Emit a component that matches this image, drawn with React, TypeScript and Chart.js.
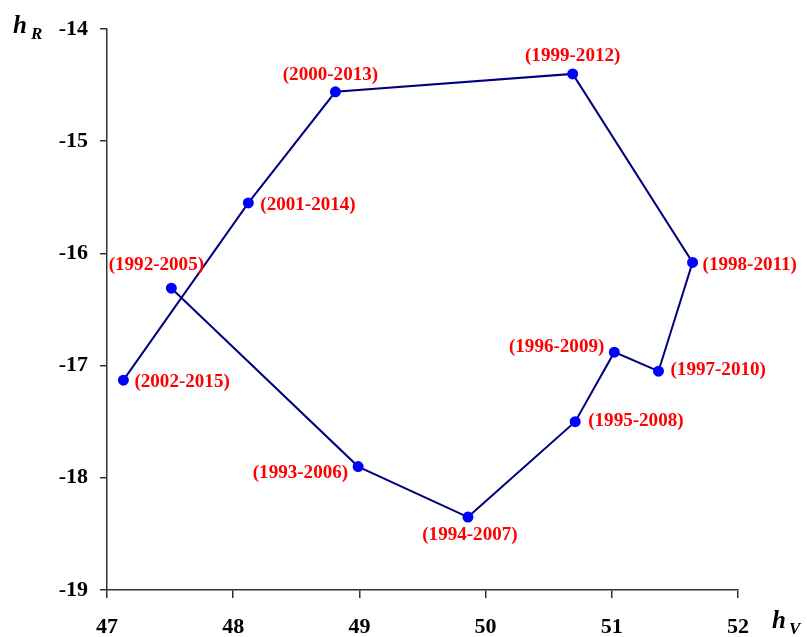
import React, { useEffect, useRef } from "react";
import { Chart, registerables } from "chart.js";

Chart.register(...registerables);

const periods = [
  "(1992-2005)", "(1993-2006)", "(1994-2007)", "(1995-2008)", "(1996-2009)",
  "(1997-2010)", "(1998-2011)", "(1999-2012)", "(2000-2013)", "(2001-2014)", "(2002-2015)",
];
const hV = [47.51, 48.99, 49.86, 50.71, 51.02, 51.37, 51.64, 50.69, 48.81, 48.12, 47.13];
const hR = [-16.31, -17.9, -18.35, -17.5, -16.88, -17.05, -16.08, -14.4, -14.56, -15.55, -17.13];
const xTicks = [47, 48, 49, 50, 51, 52];
const yTicks = [-19, -18, -17, -16, -15, -14];

// label placement: [align, dx, dy]
const labelPlacement: [CanvasTextAlign, number, number][] = [
  ["center", -15, -23],
  ["right", -10, 7],
  ["center", 2, 18],
  ["left", 13, 0],
  ["right", -10, -5],
  ["left", 12, -1],
  ["left", 10, 3],
  ["center", 0, -18],
  ["center", -5, -16],
  ["left", 12, 2],
  ["left", 11, 2],
];

const SERIF = "'Liberation Serif', 'Times New Roman', serif";

const labelPlugin = {
  id: "pointLabels",
  afterDatasetsDraw(chart: any) {
    const ctx = chart.ctx as CanvasRenderingContext2D;
    const meta = chart.getDatasetMeta(0);
    ctx.save();
    ctx.font = `bold 18px ${SERIF}`;
    ctx.fillStyle = "#FF0000";
    ctx.textBaseline = "middle";
    meta.data.forEach((pt: any, i: number) => {
      const [align, dx, dy] = labelPlacement[i];
      ctx.save();
      ctx.translate(pt.x + dx, pt.y + dy);
      ctx.scale(1.06, 1);
      ctx.textAlign = align;
      ctx.fillText(periods[i], 0, 0);
      ctx.restore();
    });
    ctx.restore();
  },
};

const titlePlugin = {
  id: "axisTitles",
  afterDraw(chart: any) {
    const ctx = chart.ctx as CanvasRenderingContext2D;
    ctx.save();
    ctx.fillStyle = "#000";
    ctx.textBaseline = "alphabetic";
    ctx.textAlign = "left";
    ctx.font = `bold italic 25px ${SERIF}`;
    ctx.fillText("h", 13, 33);
    ctx.font = `bold italic 17px ${SERIF}`;
    ctx.fillText("R", 31, 39);
    ctx.font = `bold italic 25px ${SERIF}`;
    ctx.fillText("h", 772, 628);
    ctx.font = `bold italic 17px ${SERIF}`;
    ctx.fillText("V", 789, 634);
    ctx.restore();
  },
};

export default function App() {
  const ref = useRef<HTMLCanvasElement | null>(null);
  useEffect(() => {
    if (!ref.current) return;
    const chart = new Chart(ref.current, {
      type: "scatter",
      data: {
        datasets: [
          {
            data: hV.map((x, i) => ({ x, y: hR[i] })),
            showLine: true,
            borderColor: "#000080",
            borderWidth: 2,
            pointBackgroundColor: "#0000FF",
            pointBorderColor: "#0000FF",
            pointRadius: 4.5,
            tension: 0,
          },
        ],
      },
      options: {
        animation: false,
        responsive: false,
        maintainAspectRatio: false,
        layout: { padding: { left: 0, top: 29, right: 69, bottom: 0 } },
        plugins: { legend: { display: false }, tooltip: { enabled: false } },
        scales: {
          x: {
            type: "linear",
            min: 47,
            max: 52,
            afterBuildTicks: (s: any) => {
              s.ticks = xTicks.map((v) => ({ value: v }));
            },
            afterFit: (s: any) => {
              s.height = 47;
            },
            ticks: {
              color: "#000",
              font: { family: SERIF, size: 22, weight: "bold" },
              padding: 16,
              maxRotation: 0,
            },
            grid: { drawOnChartArea: false, drawTicks: true, tickLength: 8, color: "#333", lineWidth: 1.5 },
            border: { display: true, color: "#333", width: 1.5 },
          },
          y: {
            type: "linear",
            min: -19,
            max: -14,
            afterBuildTicks: (s: any) => {
              s.ticks = yTicks.map((v) => ({ value: v }));
            },
            afterFit: (s: any) => {
              s.width = 107;
            },
            ticks: {
              color: "#000",
              font: { family: SERIF, size: 22, weight: "bold" },
              padding: 12,
            },
            grid: { drawOnChartArea: false, drawTicks: true, tickLength: 7, color: "#333", lineWidth: 1.5 },
            border: { display: true, color: "#333", width: 1.5 },
          },
        },
      },
      plugins: [labelPlugin, titlePlugin],
    } as any);
    return () => chart.destroy();
  }, []);
  return (
    <div style={{ position: "absolute", left: 0, top: 0, width: 807, height: 637, background: "#fff" }}>
      <canvas ref={ref} width={807} height={637} style={{ display: "block" }} />
    </div>
  );
}
